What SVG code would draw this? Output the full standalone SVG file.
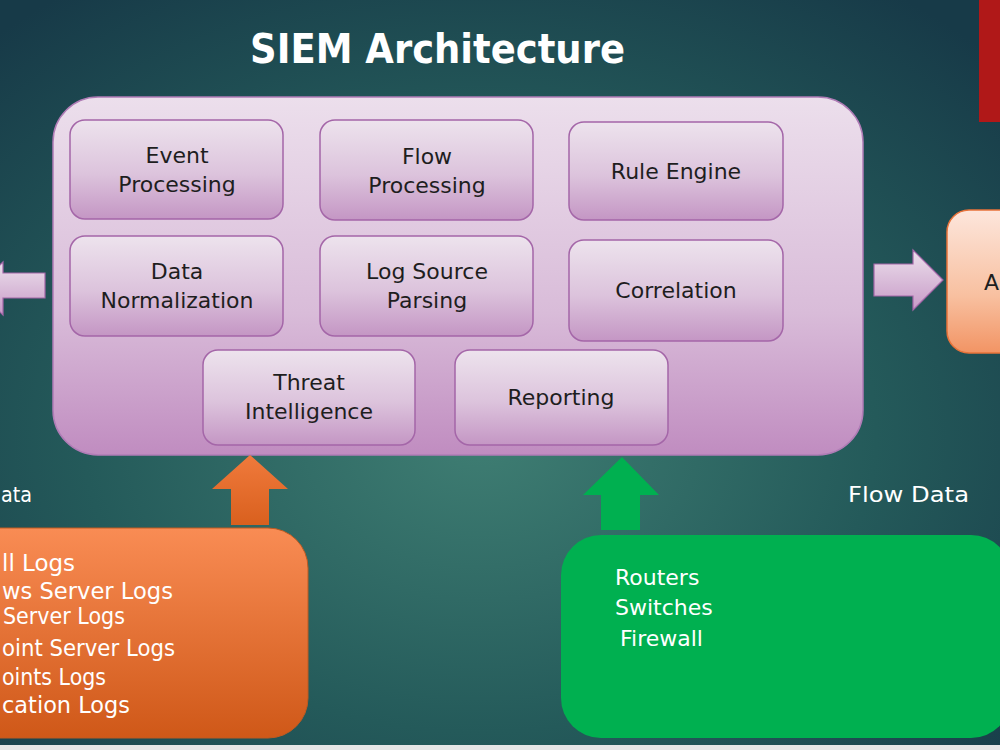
<svg xmlns="http://www.w3.org/2000/svg" width="1000" height="750" viewBox="0 0 1000 750">
<defs>
  <radialGradient id="bg" cx="0.48" cy="0.58" r="0.72">
    <stop offset="0" stop-color="#3f7e73"/>
    <stop offset="0.55" stop-color="#245a5a"/>
    <stop offset="1" stop-color="#173a48"/>
  </radialGradient>
  <linearGradient id="mainG" x1="0" y1="0" x2="0" y2="1">
    <stop offset="0" stop-color="#ecdfec"/>
    <stop offset="0.6" stop-color="#d9bcd9"/>
    <stop offset="1" stop-color="#c08cc0"/>
  </linearGradient>
  <linearGradient id="innerG" x1="0" y1="0" x2="0" y2="1">
    <stop offset="0" stop-color="#ede3ed"/>
    <stop offset="0.55" stop-color="#dcc3dc"/>
    <stop offset="1" stop-color="#c496c4"/>
  </linearGradient>
  <linearGradient id="pinkArrow" x1="0" y1="0" x2="0" y2="1">
    <stop offset="0" stop-color="#ece0ec"/>
    <stop offset="1" stop-color="#c79ac7"/>
  </linearGradient>
  <linearGradient id="peachG" x1="0" y1="0" x2="0" y2="1">
    <stop offset="0" stop-color="#fde6dc"/>
    <stop offset="0.6" stop-color="#f8c0a0"/>
    <stop offset="1" stop-color="#f29464"/>
  </linearGradient>
  <linearGradient id="orangeG" x1="0" y1="0" x2="0" y2="1">
    <stop offset="0" stop-color="#f98c54"/>
    <stop offset="1" stop-color="#cf5818"/>
  </linearGradient>
  <linearGradient id="orangeArrowG" x1="0" y1="0" x2="0" y2="1">
    <stop offset="0" stop-color="#f07a3c"/>
    <stop offset="1" stop-color="#d9601e"/>
  </linearGradient>
</defs>
<style>
  .inner { fill: url(#innerG); stroke: #a466a8; stroke-width: 1.5; }
  .lbl { font-family: "DejaVu Sans", "Liberation Sans", sans-serif; font-size: 22px; fill: #1e1e1e; text-anchor: middle; }
  .wt { font-family: "DejaVu Sans", "Liberation Sans", sans-serif; font-size: 22px; fill: #ffffff; }
  .wtL { font-family: "DejaVu Sans", "Liberation Sans", sans-serif; font-size: 23px; fill: #ffffff; }
</style>

<rect x="0" y="0" width="1000" height="750" fill="url(#bg)"/>
<rect x="979" y="0" width="21" height="122" fill="#b01818"/>
<rect x="0" y="745" width="1000" height="5" fill="#e6e6e6"/>

<text x="250" y="63" textLength="375" lengthAdjust="spacingAndGlyphs" font-family="DejaVu Sans, Liberation Sans, sans-serif" font-size="40" font-weight="bold" fill="#ffffff">SIEM Architecture</text>

<g id="siem">
  <rect x="53" y="97" width="810" height="358" rx="45" fill="url(#mainG)" stroke="#b07cb6" stroke-width="1.5"/>
</g>

<g id="event-processing">
  <rect class="inner" x="70" y="120" width="213" height="99" rx="15"/>
  <text class="lbl" x="177" y="163">Event</text>
  <text class="lbl" x="177" y="192">Processing</text>
</g>
<g id="flow-processing">
  <rect class="inner" x="320" y="120" width="213" height="100" rx="15"/>
  <text class="lbl" x="427" y="164">Flow</text>
  <text class="lbl" x="427" y="193">Processing</text>
</g>
<g id="rule-engine">
  <rect class="inner" x="569" y="122" width="214" height="98" rx="15"/>
  <text class="lbl" x="676" y="179">Rule Engine</text>
</g>
<g id="data-normalization">
  <rect class="inner" x="70" y="236" width="213" height="100" rx="15"/>
  <text class="lbl" x="177" y="279">Data</text>
  <text class="lbl" x="177" y="308">Normalization</text>
</g>
<g id="log-source-parsing">
  <rect class="inner" x="320" y="236" width="213" height="100" rx="15"/>
  <text class="lbl" x="427" y="279">Log Source</text>
  <text class="lbl" x="427" y="308">Parsing</text>
</g>
<g id="correlation">
  <rect class="inner" x="569" y="240" width="214" height="101" rx="15"/>
  <text class="lbl" x="676" y="298">Correlation</text>
</g>
<g id="threat-intelligence">
  <rect class="inner" x="203" y="350" width="212" height="95" rx="15"/>
  <text class="lbl" x="309" y="390">Threat</text>
  <text class="lbl" x="309" y="419">Intelligence</text>
</g>
<g id="reporting">
  <rect class="inner" x="455" y="350" width="213" height="95" rx="15"/>
  <text class="lbl" x="561" y="405">Reporting</text>
</g>

<g id="alerts">
  <rect x="947" y="210" width="80" height="143" rx="22" fill="url(#peachG)" stroke="#e8733a" stroke-width="1.5"/>
  <text x="984" y="290" font-family="DejaVu Sans, Liberation Sans, sans-serif" font-size="22" fill="#1e1e1e">A</text>
</g>

<g id="log-sources">
  <rect x="-60" y="528" width="368" height="210" rx="40" fill="url(#orangeG)" stroke="#c05a20" stroke-width="1"/>
  <text class="wtL" x="2" y="571" textLength="73" lengthAdjust="spacingAndGlyphs">ll Logs</text>
  <text class="wtL" x="2" y="599" textLength="171" lengthAdjust="spacingAndGlyphs">ws Server Logs</text>
  <text class="wtL" x="3" y="624" textLength="122" lengthAdjust="spacingAndGlyphs">Server Logs</text>
  <text class="wtL" x="2" y="656" textLength="173" lengthAdjust="spacingAndGlyphs">oint Server Logs</text>
  <text class="wtL" x="2" y="685" textLength="104" lengthAdjust="spacingAndGlyphs">oints Logs</text>
  <text class="wtL" x="2" y="713" textLength="128" lengthAdjust="spacingAndGlyphs">cation Logs</text>
</g>

<g id="flow-sources">
  <rect x="561" y="535" width="450" height="203" rx="40" fill="#00b050"/>
  <text class="wt" x="615" y="585">Routers</text>
  <text class="wt" x="615" y="615">Switches</text>
  <text class="wt" x="620" y="646">Firewall</text>
</g>

<g id="labels">
  <text class="wt" x="1" y="502" textLength="31" lengthAdjust="spacingAndGlyphs">ata</text>
  <text class="wt" x="848" y="502" textLength="121" lengthAdjust="spacingAndGlyphs">Flow Data</text>
</g>

<g id="connectors">
  <polygon points="45,273 3,273 3,262 -24,288 3,315 3,298 45,298" fill="url(#pinkArrow)" stroke="#a466a8" stroke-width="1.2"/>
  <polygon points="874,264 913,264 913,250 943,280 913,310 913,296 874,296" fill="url(#pinkArrow)" stroke="#a466a8" stroke-width="1.2"/>
  <polygon points="250,455 288,489 269,489 269,525 231,525 231,489 212,489" fill="url(#orangeArrowG)"/>
  <polygon points="622,457 659,495 640,495 640,530 601,530 601,495 583,495" fill="#00b050"/>
</g>
</svg>
